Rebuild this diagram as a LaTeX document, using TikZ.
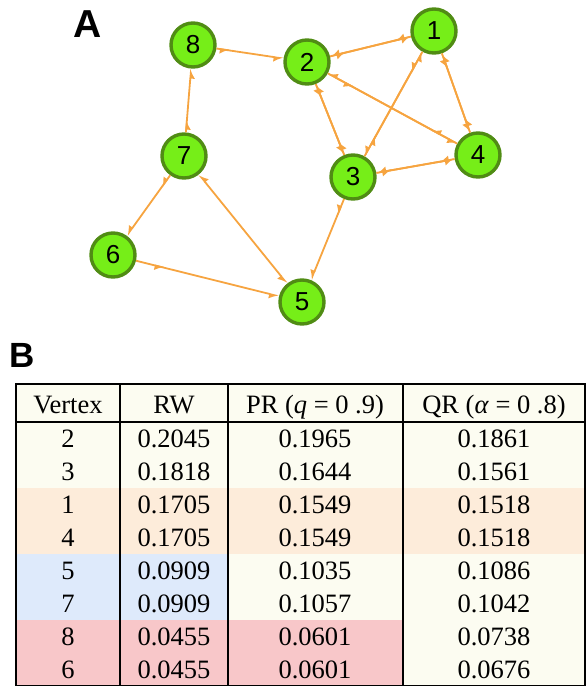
\documentclass[tikz,border=0pt]{standalone}
\usepackage{fontspec}
\setmainfont{Liberation Serif}
\setsansfont{Liberation Sans}
\usetikzlibrary{arrows.meta,decorations.markings}

\definecolor{verde}{RGB}{118,238,24}
\definecolor{verdescuro}{RGB}{80,140,20}
\definecolor{arancio}{RGB}{246,164,64}
\definecolor{crema}{RGB}{252,252,241}
\definecolor{pesca}{RGB}{253,236,218}
\definecolor{azzurro}{RGB}{222,234,251}
\definecolor{rosa}{RGB}{248,199,201}

\tikzset{
  arpione/.tip={Latex[harpoon,swap,length=8pt,width=10pt]},
  vertice/.style={circle,draw=verdescuro,fill=verde,line width=3.4pt,
    minimum size=44pt,inner sep=0pt,font=\fontsize{26}{26}\selectfont\sffamily},
  arco/.style={arancio,line width=1.8pt,-arpione,postaction={decorate},
    decoration={markings,mark=at position 0.2 with {\arrow{arpione}}}},
  arcodoppio/.style={arancio,line width=1.8pt,arpione-arpione},
  cella/.style={anchor=base,font=\fontsize{26.5}{26.5}\selectfont},
}

\begin{document}
\begin{tikzpicture}[x=1pt,y=-1pt]
  \useasboundingbox (0,0) rectangle (588,686);

  % A: il grafo
  \node[font=\fontsize{39}{39}\selectfont\sffamily\bfseries] (lettA) at (88,24) {A};

  \node[vertice] (n1) at (434,31) {1};
  \node[vertice] (n2) at (307,62) {2};
  \node[vertice] (n3) at (353,177) {3};
  \node[vertice] (n4) at (478,155) {4};
  \node[vertice] (n5) at (302,302) {5};
  \node[vertice] (n6) at (113,255) {6};
  \node[vertice] (n7) at (184,156) {7};
  \node[vertice] (n8) at (193,45) {8};

  \draw[arco] (n8) -- (n2);
  \draw[arco] (n7) -- (n8);
  \draw[arco] (n7) -- (n6);
  \draw[arco] (n6) -- (n5);
  \draw[arco] (n3) -- (n5);
  \draw[arcodoppio] (n5) -- (n7);
  \foreach \a/\b in {2/1,2/3,2/4,1/3,1/4,3/4} {
    \draw[arco] (n\a) -- (n\b);
    \draw[arco] (n\b) -- (n\a);
  }

  % B: la tabella
  \node[font=\fontsize{35}{35}\selectfont\sffamily\bfseries] (lettB) at (22,355) {B};

  \fill[crema] (16,384) rectangle (585,686);
  \fill[pesca] (16,488) rectangle (585,554);
  \fill[azzurro] (16,554) rectangle (228,620);
  \fill[rosa] (16,620) rectangle (403,686);

  \begin{scope}[line width=1.5pt]
    \draw (16,384) rectangle (585,685.25);
    \draw (16,422) -- (585,422);
    \foreach \x in {120,228,403}
      \draw (\x,384) -- (\x,686);
  \end{scope}

  \begin{scope}[every node/.style={cella}]
    \node (tit1) at (68,413) {Vertex};
    \node (tit2) at (174,413) {RW};
    \node (tit3) at (315,413) {PR (\textit{q} = 0 .9)};
    \node (tit4) at (494,413) {QR (\textit{α} = 0 .8)};
    \foreach \v/\rw/\pr/\qr [count=\r] in {2/0.2045/0.1965/0.1861,
        3/0.1818/0.1644/0.1561, 1/0.1705/0.1549/0.1518,
        4/0.1705/0.1549/0.1518, 5/0.0909/0.1035/0.1086,
        7/0.0909/0.1057/0.1042, 8/0.0455/0.0601/0.0738,
        6/0.0455/0.0601/0.0676} {
      \node (vert\r) at (68,{414+33*\r}) {\v};
      \node (rw\r) at (174,{414+33*\r}) {\rw};
      \node (pr\r) at (315,{414+33*\r}) {\pr};
      \node (qr\r) at (494,{414+33*\r}) {\qr};
    }
  \end{scope}
\end{tikzpicture}
\end{document}
